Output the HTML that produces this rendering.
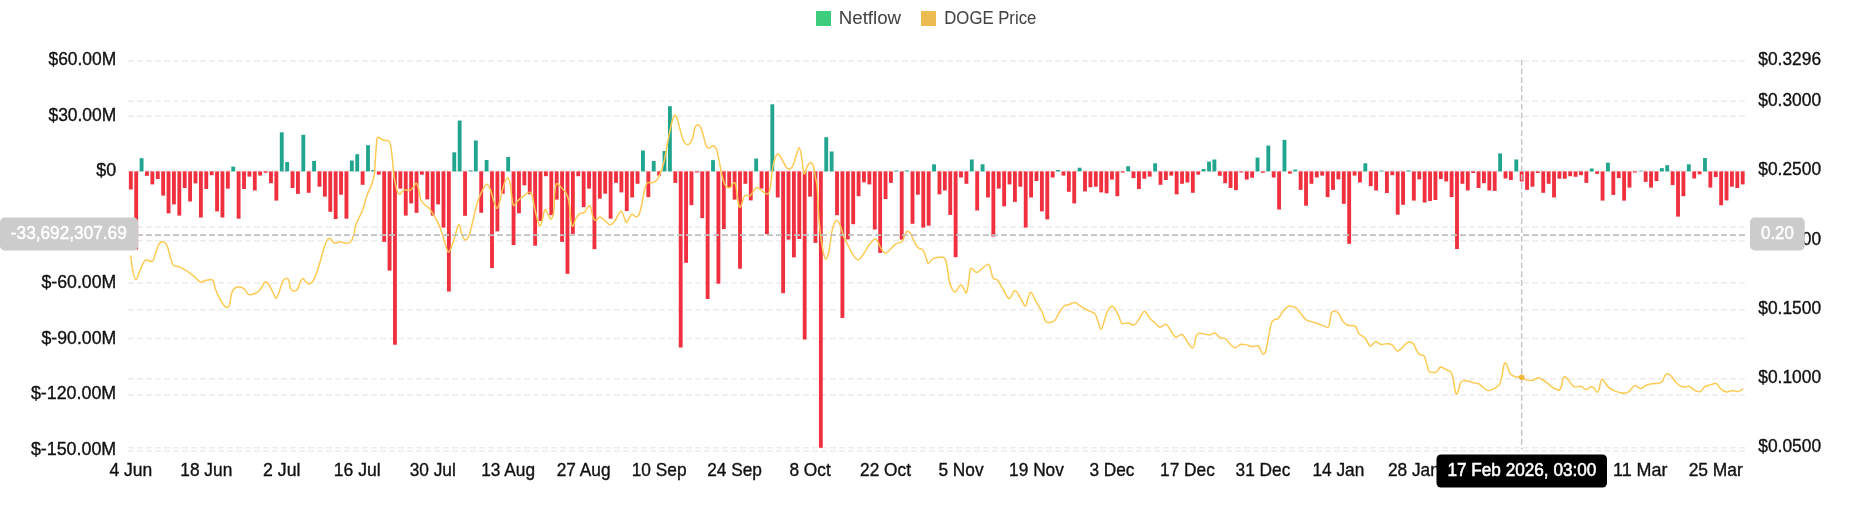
<!DOCTYPE html>
<html><head><meta charset="utf-8"><title>Netflow</title>
<style>html,body{margin:0;padding:0;background:#fff;overflow:hidden}body{width:1852px;height:525px;font-family:"Liberation Sans",sans-serif}</style></head>
<body>
<svg width="1852" height="525" viewBox="0 0 1852 525" style="display:block;will-change:transform">
<rect x="0" y="0" width="1852" height="525" fill="#fff"/>
<g shape-rendering="auto">
<line x1="128.0" y1="61.00" x2="1745.0" y2="61.00" stroke="#ececec" stroke-width="1.5" stroke-dasharray="6 3"/>
<line x1="128.0" y1="116.20" x2="1745.0" y2="116.20" stroke="#ececec" stroke-width="1.5" stroke-dasharray="6 3"/>
<line x1="128.0" y1="171.40" x2="1745.0" y2="171.40" stroke="#ececec" stroke-width="1.5" stroke-dasharray="6 3"/>
<line x1="128.0" y1="227.00" x2="1745.0" y2="227.00" stroke="#ececec" stroke-width="1.5" stroke-dasharray="6 3"/>
<line x1="128.0" y1="282.80" x2="1745.0" y2="282.80" stroke="#ececec" stroke-width="1.5" stroke-dasharray="6 3"/>
<line x1="128.0" y1="338.50" x2="1745.0" y2="338.50" stroke="#ececec" stroke-width="1.5" stroke-dasharray="6 3"/>
<line x1="128.0" y1="395.10" x2="1745.0" y2="395.10" stroke="#ececec" stroke-width="1.5" stroke-dasharray="6 3"/>
<line x1="128.0" y1="451.00" x2="1745.0" y2="451.00" stroke="#ececec" stroke-width="1.5" stroke-dasharray="6 3"/>
<line x1="128.0" y1="101.30" x2="1745.0" y2="101.30" stroke="#ececec" stroke-width="1.5" stroke-dasharray="6 3"/>
<line x1="128.0" y1="170.80" x2="1745.0" y2="170.80" stroke="#ececec" stroke-width="1.5" stroke-dasharray="6 3"/>
<line x1="128.0" y1="240.80" x2="1745.0" y2="240.80" stroke="#ececec" stroke-width="1.5" stroke-dasharray="6 3"/>
<line x1="128.0" y1="309.80" x2="1745.0" y2="309.80" stroke="#ececec" stroke-width="1.5" stroke-dasharray="6 3"/>
<line x1="128.0" y1="378.80" x2="1745.0" y2="378.80" stroke="#ececec" stroke-width="1.5" stroke-dasharray="6 3"/>
<line x1="128.0" y1="447.80" x2="1745.0" y2="447.80" stroke="#ececec" stroke-width="1.5" stroke-dasharray="6 3"/>
</g>
<g font-family="'Liberation Sans', sans-serif">
<text x="116.20" y="65.10" text-anchor="end" fill="#111111" stroke="#111111" stroke-width="0.35" font-size="17.9" font-weight="normal" textLength="67.70" lengthAdjust="spacingAndGlyphs">$60.00M</text>
<text x="116.20" y="120.70" text-anchor="end" fill="#111111" stroke="#111111" stroke-width="0.35" font-size="17.9" font-weight="normal" textLength="67.70" lengthAdjust="spacingAndGlyphs">$30.00M</text>
<text x="116.20" y="176.30" text-anchor="end" fill="#111111" stroke="#111111" stroke-width="0.35" font-size="17.9" font-weight="normal" textLength="19.90" lengthAdjust="spacingAndGlyphs">$0</text>
<text x="116.20" y="287.50" text-anchor="end" fill="#111111" stroke="#111111" stroke-width="0.35" font-size="17.9" font-weight="normal" textLength="74.70" lengthAdjust="spacingAndGlyphs">$-60.00M</text>
<text x="116.20" y="343.70" text-anchor="end" fill="#111111" stroke="#111111" stroke-width="0.35" font-size="17.9" font-weight="normal" textLength="74.70" lengthAdjust="spacingAndGlyphs">$-90.00M</text>
<text x="116.20" y="399.30" text-anchor="end" fill="#111111" stroke="#111111" stroke-width="0.35" font-size="17.9" font-weight="normal" textLength="85.30" lengthAdjust="spacingAndGlyphs">$-120.00M</text>
<text x="116.20" y="455.40" text-anchor="end" fill="#111111" stroke="#111111" stroke-width="0.35" font-size="17.9" font-weight="normal" textLength="85.30" lengthAdjust="spacingAndGlyphs">$-150.00M</text>
<text x="1758.30" y="64.80" text-anchor="start" fill="#111111" stroke="#111111" stroke-width="0.35" font-size="17.9" font-weight="normal" textLength="62.80" lengthAdjust="spacingAndGlyphs">$0.3296</text>
<text x="1758.30" y="105.70" text-anchor="start" fill="#111111" stroke="#111111" stroke-width="0.35" font-size="17.9" font-weight="normal" textLength="62.80" lengthAdjust="spacingAndGlyphs">$0.3000</text>
<text x="1758.30" y="175.00" text-anchor="start" fill="#111111" stroke="#111111" stroke-width="0.35" font-size="17.9" font-weight="normal" textLength="62.80" lengthAdjust="spacingAndGlyphs">$0.2500</text>
<text x="1758.30" y="245.30" text-anchor="start" fill="#111111" stroke="#111111" stroke-width="0.35" font-size="17.9" font-weight="normal" textLength="62.80" lengthAdjust="spacingAndGlyphs">$0.2000</text>
<text x="1758.30" y="313.80" text-anchor="start" fill="#111111" stroke="#111111" stroke-width="0.35" font-size="17.9" font-weight="normal" textLength="62.80" lengthAdjust="spacingAndGlyphs">$0.1500</text>
<text x="1758.30" y="382.90" text-anchor="start" fill="#111111" stroke="#111111" stroke-width="0.35" font-size="17.9" font-weight="normal" textLength="62.80" lengthAdjust="spacingAndGlyphs">$0.1000</text>
<text x="1758.30" y="452.30" text-anchor="start" fill="#111111" stroke="#111111" stroke-width="0.35" font-size="17.9" font-weight="normal" textLength="62.80" lengthAdjust="spacingAndGlyphs">$0.0500</text>
<text x="130.80" y="476.00" text-anchor="middle" fill="#111111" stroke="#111111" stroke-width="0.35" font-size="17.9" font-weight="normal" textLength="42.80" lengthAdjust="spacingAndGlyphs">4 Jun</text>
<text x="206.27" y="476.00" text-anchor="middle" fill="#111111" stroke="#111111" stroke-width="0.35" font-size="17.9" font-weight="normal" textLength="52.00" lengthAdjust="spacingAndGlyphs">18 Jun</text>
<text x="281.75" y="476.00" text-anchor="middle" fill="#111111" stroke="#111111" stroke-width="0.35" font-size="17.9" font-weight="normal" textLength="37.30" lengthAdjust="spacingAndGlyphs">2 Jul</text>
<text x="357.22" y="476.00" text-anchor="middle" fill="#111111" stroke="#111111" stroke-width="0.35" font-size="17.9" font-weight="normal" textLength="47.00" lengthAdjust="spacingAndGlyphs">16 Jul</text>
<text x="432.70" y="476.00" text-anchor="middle" fill="#111111" stroke="#111111" stroke-width="0.35" font-size="17.9" font-weight="normal" textLength="46.11" lengthAdjust="spacingAndGlyphs">30 Jul</text>
<text x="508.17" y="476.00" text-anchor="middle" fill="#111111" stroke="#111111" stroke-width="0.35" font-size="17.9" font-weight="normal" textLength="53.81" lengthAdjust="spacingAndGlyphs">13 Aug</text>
<text x="583.64" y="476.00" text-anchor="middle" fill="#111111" stroke="#111111" stroke-width="0.35" font-size="17.9" font-weight="normal" textLength="53.81" lengthAdjust="spacingAndGlyphs">27 Aug</text>
<text x="659.12" y="476.00" text-anchor="middle" fill="#111111" stroke="#111111" stroke-width="0.35" font-size="17.9" font-weight="normal" textLength="54.77" lengthAdjust="spacingAndGlyphs">10 Sep</text>
<text x="734.59" y="476.00" text-anchor="middle" fill="#111111" stroke="#111111" stroke-width="0.35" font-size="17.9" font-weight="normal" textLength="54.77" lengthAdjust="spacingAndGlyphs">24 Sep</text>
<text x="810.07" y="476.00" text-anchor="middle" fill="#111111" stroke="#111111" stroke-width="0.35" font-size="17.9" font-weight="normal" textLength="41.29" lengthAdjust="spacingAndGlyphs">8 Oct</text>
<text x="885.54" y="476.00" text-anchor="middle" fill="#111111" stroke="#111111" stroke-width="0.35" font-size="17.9" font-weight="normal" textLength="50.90" lengthAdjust="spacingAndGlyphs">22 Oct</text>
<text x="961.01" y="476.00" text-anchor="middle" fill="#111111" stroke="#111111" stroke-width="0.35" font-size="17.9" font-weight="normal" textLength="45.14" lengthAdjust="spacingAndGlyphs">5 Nov</text>
<text x="1036.49" y="476.00" text-anchor="middle" fill="#111111" stroke="#111111" stroke-width="0.35" font-size="17.9" font-weight="normal" textLength="54.75" lengthAdjust="spacingAndGlyphs">19 Nov</text>
<text x="1111.96" y="476.00" text-anchor="middle" fill="#111111" stroke="#111111" stroke-width="0.35" font-size="17.9" font-weight="normal" textLength="45.14" lengthAdjust="spacingAndGlyphs">3 Dec</text>
<text x="1187.44" y="476.00" text-anchor="middle" fill="#111111" stroke="#111111" stroke-width="0.35" font-size="17.9" font-weight="normal" textLength="54.75" lengthAdjust="spacingAndGlyphs">17 Dec</text>
<text x="1262.91" y="476.00" text-anchor="middle" fill="#111111" stroke="#111111" stroke-width="0.35" font-size="17.9" font-weight="normal" textLength="54.75" lengthAdjust="spacingAndGlyphs">31 Dec</text>
<text x="1338.38" y="476.00" text-anchor="middle" fill="#111111" stroke="#111111" stroke-width="0.35" font-size="17.9" font-weight="normal" textLength="51.88" lengthAdjust="spacingAndGlyphs">14 Jan</text>
<text x="1413.86" y="476.00" text-anchor="middle" fill="#111111" stroke="#111111" stroke-width="0.35" font-size="17.9" font-weight="normal" textLength="51.88" lengthAdjust="spacingAndGlyphs">28 Jan</text>
<text x="1489.33" y="476.00" text-anchor="middle" fill="#111111" stroke="#111111" stroke-width="0.35" font-size="17.9" font-weight="normal" textLength="52.52" lengthAdjust="spacingAndGlyphs">11 Feb</text>
<text x="1564.81" y="476.00" text-anchor="middle" fill="#111111" stroke="#111111" stroke-width="0.35" font-size="17.9" font-weight="normal" textLength="53.80" lengthAdjust="spacingAndGlyphs">25 Feb</text>
<text x="1640.28" y="476.00" text-anchor="middle" fill="#111111" stroke="#111111" stroke-width="0.35" font-size="17.9" font-weight="normal" textLength="54.50" lengthAdjust="spacingAndGlyphs">11 Mar</text>
<text x="1715.75" y="476.00" text-anchor="middle" fill="#111111" stroke="#111111" stroke-width="0.35" font-size="17.9" font-weight="normal" textLength="54.20" lengthAdjust="spacingAndGlyphs">25 Mar</text>
</g>
<g>
<rect x="128.88" y="171.40" width="3.85" height="18.10" fill="#F0303F"/>
<rect x="134.27" y="171.40" width="3.85" height="78.10" fill="#F0303F"/>
<rect x="139.66" y="158.20" width="3.85" height="13.20" fill="#22A58F"/>
<rect x="145.05" y="171.40" width="3.85" height="4.40" fill="#F0303F"/>
<rect x="150.44" y="171.40" width="3.85" height="13.00" fill="#F0303F"/>
<rect x="155.83" y="171.40" width="3.85" height="7.60" fill="#F0303F"/>
<rect x="161.22" y="171.40" width="3.85" height="24.20" fill="#F0303F"/>
<rect x="166.61" y="171.40" width="3.85" height="41.90" fill="#F0303F"/>
<rect x="172.00" y="171.40" width="3.85" height="33.00" fill="#F0303F"/>
<rect x="177.39" y="171.40" width="3.85" height="44.20" fill="#F0303F"/>
<rect x="182.78" y="171.40" width="3.85" height="16.60" fill="#F0303F"/>
<rect x="188.18" y="171.40" width="3.85" height="30.10" fill="#F0303F"/>
<rect x="193.57" y="171.40" width="3.85" height="12.00" fill="#F0303F"/>
<rect x="198.96" y="171.40" width="3.85" height="46.10" fill="#F0303F"/>
<rect x="204.35" y="171.40" width="3.85" height="17.60" fill="#F0303F"/>
<rect x="209.74" y="171.40" width="3.85" height="3.80" fill="#F0303F"/>
<rect x="215.13" y="171.40" width="3.85" height="40.00" fill="#F0303F"/>
<rect x="220.52" y="171.40" width="3.85" height="46.10" fill="#F0303F"/>
<rect x="225.91" y="171.40" width="3.85" height="17.20" fill="#F0303F"/>
<rect x="231.30" y="166.60" width="3.85" height="4.80" fill="#22A58F"/>
<rect x="236.69" y="171.40" width="3.85" height="47.30" fill="#F0303F"/>
<rect x="242.09" y="171.40" width="3.85" height="17.60" fill="#F0303F"/>
<rect x="247.48" y="171.40" width="3.85" height="5.20" fill="#F0303F"/>
<rect x="252.87" y="171.40" width="3.85" height="19.10" fill="#F0303F"/>
<rect x="258.26" y="171.40" width="3.85" height="4.20" fill="#F0303F"/>
<rect x="263.65" y="171.40" width="3.85" height="1.40" fill="#F0303F"/>
<rect x="269.04" y="171.40" width="3.85" height="11.80" fill="#F0303F"/>
<rect x="274.43" y="171.40" width="3.85" height="29.20" fill="#F0303F"/>
<rect x="279.82" y="132.30" width="3.85" height="39.10" fill="#22A58F"/>
<rect x="285.21" y="162.00" width="3.85" height="9.40" fill="#22A58F"/>
<rect x="290.60" y="171.40" width="3.85" height="16.60" fill="#F0303F"/>
<rect x="296.00" y="171.40" width="3.85" height="22.50" fill="#F0303F"/>
<rect x="301.39" y="134.80" width="3.85" height="36.60" fill="#22A58F"/>
<rect x="306.78" y="171.40" width="3.85" height="21.40" fill="#F0303F"/>
<rect x="312.17" y="160.90" width="3.85" height="10.50" fill="#22A58F"/>
<rect x="317.56" y="171.40" width="3.85" height="15.30" fill="#F0303F"/>
<rect x="322.95" y="171.40" width="3.85" height="25.20" fill="#F0303F"/>
<rect x="328.34" y="171.40" width="3.85" height="40.40" fill="#F0303F"/>
<rect x="333.73" y="171.40" width="3.85" height="47.60" fill="#F0303F"/>
<rect x="339.12" y="171.40" width="3.85" height="23.30" fill="#F0303F"/>
<rect x="344.51" y="171.40" width="3.85" height="47.30" fill="#F0303F"/>
<rect x="349.91" y="160.50" width="3.85" height="10.90" fill="#22A58F"/>
<rect x="355.30" y="154.20" width="3.85" height="17.20" fill="#22A58F"/>
<rect x="360.69" y="171.40" width="3.85" height="13.40" fill="#F0303F"/>
<rect x="366.08" y="145.20" width="3.85" height="26.20" fill="#22A58F"/>
<rect x="371.47" y="170.00" width="3.85" height="1.40" fill="#22A58F"/>
<rect x="376.86" y="171.40" width="3.85" height="3.30" fill="#F0303F"/>
<rect x="382.25" y="171.40" width="3.85" height="70.50" fill="#F0303F"/>
<rect x="387.64" y="171.40" width="3.85" height="99.20" fill="#F0303F"/>
<rect x="393.03" y="171.40" width="3.85" height="173.30" fill="#F0303F"/>
<rect x="398.43" y="171.40" width="3.85" height="17.20" fill="#F0303F"/>
<rect x="403.82" y="171.40" width="3.85" height="44.20" fill="#F0303F"/>
<rect x="409.21" y="171.40" width="3.85" height="32.00" fill="#F0303F"/>
<rect x="414.60" y="171.40" width="3.85" height="41.40" fill="#F0303F"/>
<rect x="419.99" y="171.40" width="3.85" height="3.30" fill="#F0303F"/>
<rect x="425.38" y="171.40" width="3.85" height="28.00" fill="#F0303F"/>
<rect x="430.77" y="171.40" width="3.85" height="44.20" fill="#F0303F"/>
<rect x="436.16" y="171.40" width="3.85" height="33.00" fill="#F0303F"/>
<rect x="441.55" y="171.40" width="3.85" height="56.20" fill="#F0303F"/>
<rect x="446.94" y="171.40" width="3.85" height="120.10" fill="#F0303F"/>
<rect x="452.33" y="152.30" width="3.85" height="19.10" fill="#22A58F"/>
<rect x="457.73" y="120.50" width="3.85" height="50.90" fill="#22A58F"/>
<rect x="463.12" y="171.40" width="3.85" height="44.40" fill="#F0303F"/>
<rect x="468.51" y="170.40" width="3.85" height="1.00" fill="#22A58F"/>
<rect x="473.90" y="140.50" width="3.85" height="30.90" fill="#22A58F"/>
<rect x="479.29" y="171.40" width="3.85" height="41.40" fill="#F0303F"/>
<rect x="484.68" y="160.00" width="3.85" height="11.40" fill="#22A58F"/>
<rect x="490.07" y="171.40" width="3.85" height="96.70" fill="#F0303F"/>
<rect x="495.46" y="171.40" width="3.85" height="60.00" fill="#F0303F"/>
<rect x="500.85" y="171.40" width="3.85" height="22.30" fill="#F0303F"/>
<rect x="506.25" y="157.00" width="3.85" height="14.40" fill="#22A58F"/>
<rect x="511.64" y="171.40" width="3.85" height="73.70" fill="#F0303F"/>
<rect x="517.03" y="171.40" width="3.85" height="41.90" fill="#F0303F"/>
<rect x="522.42" y="171.40" width="3.85" height="13.90" fill="#F0303F"/>
<rect x="527.81" y="171.40" width="3.85" height="22.90" fill="#F0303F"/>
<rect x="533.20" y="171.40" width="3.85" height="74.30" fill="#F0303F"/>
<rect x="538.59" y="171.40" width="3.85" height="49.60" fill="#F0303F"/>
<rect x="543.98" y="171.40" width="3.85" height="4.80" fill="#F0303F"/>
<rect x="549.37" y="171.40" width="3.85" height="43.80" fill="#F0303F"/>
<rect x="554.76" y="171.40" width="3.85" height="28.20" fill="#F0303F"/>
<rect x="560.15" y="171.40" width="3.85" height="70.50" fill="#F0303F"/>
<rect x="565.55" y="171.40" width="3.85" height="102.40" fill="#F0303F"/>
<rect x="570.94" y="171.40" width="3.85" height="62.50" fill="#F0303F"/>
<rect x="576.33" y="171.40" width="3.85" height="4.80" fill="#F0303F"/>
<rect x="581.72" y="171.40" width="3.85" height="35.80" fill="#F0303F"/>
<rect x="587.11" y="171.40" width="3.85" height="17.20" fill="#F0303F"/>
<rect x="592.50" y="171.40" width="3.85" height="77.70" fill="#F0303F"/>
<rect x="597.89" y="171.40" width="3.85" height="27.30" fill="#F0303F"/>
<rect x="603.28" y="171.40" width="3.85" height="22.30" fill="#F0303F"/>
<rect x="608.67" y="171.40" width="3.85" height="47.30" fill="#F0303F"/>
<rect x="614.07" y="171.40" width="3.85" height="11.50" fill="#F0303F"/>
<rect x="619.46" y="171.40" width="3.85" height="21.00" fill="#F0303F"/>
<rect x="624.85" y="171.40" width="3.85" height="39.60" fill="#F0303F"/>
<rect x="630.24" y="171.40" width="3.85" height="26.10" fill="#F0303F"/>
<rect x="635.63" y="171.40" width="3.85" height="12.40" fill="#F0303F"/>
<rect x="641.02" y="150.60" width="3.85" height="20.80" fill="#22A58F"/>
<rect x="646.41" y="171.40" width="3.85" height="25.70" fill="#F0303F"/>
<rect x="651.80" y="161.00" width="3.85" height="10.40" fill="#22A58F"/>
<rect x="657.19" y="171.40" width="3.85" height="4.20" fill="#F0303F"/>
<rect x="662.58" y="151.00" width="3.85" height="20.40" fill="#22A58F"/>
<rect x="667.98" y="106.20" width="3.85" height="65.20" fill="#22A58F"/>
<rect x="673.37" y="171.40" width="3.85" height="11.50" fill="#F0303F"/>
<rect x="678.76" y="171.40" width="3.85" height="176.10" fill="#F0303F"/>
<rect x="684.15" y="171.40" width="3.85" height="91.40" fill="#F0303F"/>
<rect x="689.54" y="171.40" width="3.85" height="33.70" fill="#F0303F"/>
<rect x="694.93" y="171.40" width="3.85" height="1.10" fill="#F0303F"/>
<rect x="700.32" y="171.40" width="3.85" height="46.70" fill="#F0303F"/>
<rect x="705.71" y="171.40" width="3.85" height="127.60" fill="#F0303F"/>
<rect x="711.10" y="160.10" width="3.85" height="11.30" fill="#22A58F"/>
<rect x="716.49" y="171.40" width="3.85" height="112.30" fill="#F0303F"/>
<rect x="721.88" y="171.40" width="3.85" height="57.70" fill="#F0303F"/>
<rect x="727.28" y="171.40" width="3.85" height="16.20" fill="#F0303F"/>
<rect x="732.67" y="171.40" width="3.85" height="28.20" fill="#F0303F"/>
<rect x="738.06" y="171.40" width="3.85" height="97.30" fill="#F0303F"/>
<rect x="743.45" y="171.40" width="3.85" height="12.40" fill="#F0303F"/>
<rect x="748.84" y="171.40" width="3.85" height="29.00" fill="#F0303F"/>
<rect x="754.23" y="158.60" width="3.85" height="12.80" fill="#22A58F"/>
<rect x="759.62" y="171.40" width="3.85" height="17.20" fill="#F0303F"/>
<rect x="765.01" y="171.40" width="3.85" height="62.90" fill="#F0303F"/>
<rect x="770.40" y="104.30" width="3.85" height="67.10" fill="#22A58F"/>
<rect x="775.80" y="171.40" width="3.85" height="26.10" fill="#F0303F"/>
<rect x="781.19" y="171.40" width="3.85" height="121.80" fill="#F0303F"/>
<rect x="786.58" y="171.40" width="3.85" height="68.20" fill="#F0303F"/>
<rect x="791.97" y="171.40" width="3.85" height="86.00" fill="#F0303F"/>
<rect x="797.36" y="171.40" width="3.85" height="67.60" fill="#F0303F"/>
<rect x="802.75" y="171.40" width="3.85" height="168.10" fill="#F0303F"/>
<rect x="808.14" y="171.40" width="3.85" height="25.20" fill="#F0303F"/>
<rect x="813.53" y="171.40" width="3.85" height="71.50" fill="#F0303F"/>
<rect x="818.92" y="171.40" width="3.85" height="276.40" fill="#F0303F"/>
<rect x="824.31" y="137.20" width="3.85" height="34.20" fill="#22A58F"/>
<rect x="829.71" y="151.50" width="3.85" height="19.90" fill="#22A58F"/>
<rect x="835.10" y="171.40" width="3.85" height="43.80" fill="#F0303F"/>
<rect x="840.49" y="171.40" width="3.85" height="146.60" fill="#F0303F"/>
<rect x="845.88" y="171.40" width="3.85" height="68.00" fill="#F0303F"/>
<rect x="851.27" y="171.40" width="3.85" height="52.80" fill="#F0303F"/>
<rect x="856.66" y="171.40" width="3.85" height="24.80" fill="#F0303F"/>
<rect x="862.05" y="171.40" width="3.85" height="10.90" fill="#F0303F"/>
<rect x="867.44" y="171.40" width="3.85" height="13.00" fill="#F0303F"/>
<rect x="872.83" y="171.40" width="3.85" height="58.10" fill="#F0303F"/>
<rect x="878.22" y="171.40" width="3.85" height="81.50" fill="#F0303F"/>
<rect x="883.62" y="171.40" width="3.85" height="27.60" fill="#F0303F"/>
<rect x="889.01" y="171.40" width="3.85" height="11.50" fill="#F0303F"/>
<rect x="894.40" y="170.70" width="3.85" height="0.70" fill="#22A58F"/>
<rect x="899.79" y="171.40" width="3.85" height="68.20" fill="#F0303F"/>
<rect x="905.18" y="170.50" width="3.85" height="0.90" fill="#22A58F"/>
<rect x="910.57" y="171.40" width="3.85" height="52.40" fill="#F0303F"/>
<rect x="915.96" y="171.40" width="3.85" height="23.30" fill="#F0303F"/>
<rect x="921.35" y="171.40" width="3.85" height="56.20" fill="#F0303F"/>
<rect x="926.74" y="171.40" width="3.85" height="54.30" fill="#F0303F"/>
<rect x="932.13" y="164.30" width="3.85" height="7.10" fill="#22A58F"/>
<rect x="937.53" y="171.40" width="3.85" height="22.90" fill="#F0303F"/>
<rect x="942.92" y="171.40" width="3.85" height="19.10" fill="#F0303F"/>
<rect x="948.31" y="171.40" width="3.85" height="43.50" fill="#F0303F"/>
<rect x="953.70" y="171.40" width="3.85" height="85.80" fill="#F0303F"/>
<rect x="959.09" y="171.40" width="3.85" height="6.10" fill="#F0303F"/>
<rect x="964.48" y="171.40" width="3.85" height="12.40" fill="#F0303F"/>
<rect x="969.87" y="159.50" width="3.85" height="11.90" fill="#22A58F"/>
<rect x="975.26" y="171.40" width="3.85" height="39.10" fill="#F0303F"/>
<rect x="980.65" y="164.30" width="3.85" height="7.10" fill="#22A58F"/>
<rect x="986.04" y="171.40" width="3.85" height="26.10" fill="#F0303F"/>
<rect x="991.43" y="171.40" width="3.85" height="65.20" fill="#F0303F"/>
<rect x="996.83" y="171.40" width="3.85" height="17.20" fill="#F0303F"/>
<rect x="1002.22" y="171.40" width="3.85" height="34.90" fill="#F0303F"/>
<rect x="1007.61" y="171.40" width="3.85" height="13.00" fill="#F0303F"/>
<rect x="1013.00" y="171.40" width="3.85" height="30.50" fill="#F0303F"/>
<rect x="1018.39" y="171.40" width="3.85" height="15.30" fill="#F0303F"/>
<rect x="1023.78" y="171.40" width="3.85" height="56.20" fill="#F0303F"/>
<rect x="1029.17" y="171.40" width="3.85" height="26.10" fill="#F0303F"/>
<rect x="1034.56" y="171.40" width="3.85" height="9.60" fill="#F0303F"/>
<rect x="1039.95" y="171.40" width="3.85" height="40.00" fill="#F0303F"/>
<rect x="1045.35" y="171.40" width="3.85" height="48.00" fill="#F0303F"/>
<rect x="1050.74" y="171.40" width="3.85" height="6.10" fill="#F0303F"/>
<rect x="1056.13" y="170.00" width="3.85" height="1.40" fill="#22A58F"/>
<rect x="1061.52" y="171.40" width="3.85" height="4.20" fill="#F0303F"/>
<rect x="1066.91" y="171.40" width="3.85" height="20.40" fill="#F0303F"/>
<rect x="1072.30" y="171.40" width="3.85" height="32.00" fill="#F0303F"/>
<rect x="1077.69" y="167.70" width="3.85" height="3.70" fill="#22A58F"/>
<rect x="1083.08" y="171.40" width="3.85" height="20.00" fill="#F0303F"/>
<rect x="1088.47" y="171.40" width="3.85" height="15.80" fill="#F0303F"/>
<rect x="1093.86" y="171.40" width="3.85" height="15.30" fill="#F0303F"/>
<rect x="1099.26" y="171.40" width="3.85" height="21.00" fill="#F0303F"/>
<rect x="1104.65" y="171.40" width="3.85" height="21.90" fill="#F0303F"/>
<rect x="1110.04" y="171.40" width="3.85" height="8.20" fill="#F0303F"/>
<rect x="1115.43" y="171.40" width="3.85" height="24.80" fill="#F0303F"/>
<rect x="1120.82" y="171.40" width="3.85" height="1.20" fill="#F0303F"/>
<rect x="1126.21" y="166.20" width="3.85" height="5.20" fill="#22A58F"/>
<rect x="1131.60" y="171.40" width="3.85" height="6.70" fill="#F0303F"/>
<rect x="1136.99" y="171.40" width="3.85" height="17.60" fill="#F0303F"/>
<rect x="1142.38" y="171.40" width="3.85" height="7.30" fill="#F0303F"/>
<rect x="1147.77" y="171.40" width="3.85" height="5.20" fill="#F0303F"/>
<rect x="1153.16" y="163.30" width="3.85" height="8.10" fill="#22A58F"/>
<rect x="1158.56" y="171.40" width="3.85" height="13.40" fill="#F0303F"/>
<rect x="1163.95" y="171.40" width="3.85" height="8.60" fill="#F0303F"/>
<rect x="1169.34" y="171.40" width="3.85" height="4.20" fill="#F0303F"/>
<rect x="1174.73" y="171.40" width="3.85" height="22.90" fill="#F0303F"/>
<rect x="1180.12" y="171.40" width="3.85" height="12.40" fill="#F0303F"/>
<rect x="1185.51" y="171.40" width="3.85" height="11.10" fill="#F0303F"/>
<rect x="1190.90" y="171.40" width="3.85" height="21.40" fill="#F0303F"/>
<rect x="1196.29" y="171.40" width="3.85" height="3.30" fill="#F0303F"/>
<rect x="1201.68" y="169.00" width="3.85" height="2.40" fill="#22A58F"/>
<rect x="1207.08" y="161.60" width="3.85" height="9.80" fill="#22A58F"/>
<rect x="1212.47" y="159.50" width="3.85" height="11.90" fill="#22A58F"/>
<rect x="1217.86" y="171.40" width="3.85" height="4.40" fill="#F0303F"/>
<rect x="1223.25" y="171.40" width="3.85" height="11.80" fill="#F0303F"/>
<rect x="1228.64" y="171.40" width="3.85" height="16.60" fill="#F0303F"/>
<rect x="1234.03" y="171.40" width="3.85" height="18.70" fill="#F0303F"/>
<rect x="1239.42" y="171.40" width="3.85" height="1.10" fill="#F0303F"/>
<rect x="1244.81" y="171.40" width="3.85" height="8.20" fill="#F0303F"/>
<rect x="1250.20" y="171.40" width="3.85" height="6.30" fill="#F0303F"/>
<rect x="1255.59" y="157.60" width="3.85" height="13.80" fill="#22A58F"/>
<rect x="1260.98" y="171.40" width="3.85" height="1.40" fill="#F0303F"/>
<rect x="1266.38" y="145.60" width="3.85" height="25.80" fill="#22A58F"/>
<rect x="1271.77" y="171.40" width="3.85" height="6.10" fill="#F0303F"/>
<rect x="1277.16" y="171.40" width="3.85" height="38.10" fill="#F0303F"/>
<rect x="1282.55" y="139.90" width="3.85" height="31.50" fill="#22A58F"/>
<rect x="1287.94" y="171.40" width="3.85" height="2.30" fill="#F0303F"/>
<rect x="1293.33" y="169.60" width="3.85" height="1.80" fill="#22A58F"/>
<rect x="1298.72" y="171.40" width="3.85" height="18.50" fill="#F0303F"/>
<rect x="1304.11" y="171.40" width="3.85" height="34.30" fill="#F0303F"/>
<rect x="1309.50" y="171.40" width="3.85" height="12.40" fill="#F0303F"/>
<rect x="1314.89" y="171.40" width="3.85" height="6.10" fill="#F0303F"/>
<rect x="1320.29" y="171.40" width="3.85" height="4.20" fill="#F0303F"/>
<rect x="1325.68" y="171.40" width="3.85" height="25.70" fill="#F0303F"/>
<rect x="1331.07" y="171.40" width="3.85" height="18.50" fill="#F0303F"/>
<rect x="1336.46" y="171.40" width="3.85" height="8.00" fill="#F0303F"/>
<rect x="1341.85" y="171.40" width="3.85" height="32.40" fill="#F0303F"/>
<rect x="1347.24" y="171.40" width="3.85" height="72.40" fill="#F0303F"/>
<rect x="1352.63" y="171.40" width="3.85" height="4.20" fill="#F0303F"/>
<rect x="1358.02" y="171.40" width="3.85" height="11.10" fill="#F0303F"/>
<rect x="1363.41" y="163.30" width="3.85" height="8.10" fill="#22A58F"/>
<rect x="1368.81" y="171.40" width="3.85" height="14.70" fill="#F0303F"/>
<rect x="1374.20" y="171.40" width="3.85" height="19.10" fill="#F0303F"/>
<rect x="1379.59" y="170.70" width="3.85" height="0.70" fill="#22A58F"/>
<rect x="1384.98" y="171.40" width="3.85" height="21.60" fill="#F0303F"/>
<rect x="1390.37" y="171.40" width="3.85" height="3.80" fill="#F0303F"/>
<rect x="1395.76" y="171.40" width="3.85" height="43.30" fill="#F0303F"/>
<rect x="1401.15" y="171.40" width="3.85" height="33.40" fill="#F0303F"/>
<rect x="1406.54" y="170.50" width="3.85" height="0.90" fill="#22A58F"/>
<rect x="1411.93" y="171.40" width="3.85" height="29.20" fill="#F0303F"/>
<rect x="1417.32" y="171.40" width="3.85" height="8.00" fill="#F0303F"/>
<rect x="1422.71" y="171.40" width="3.85" height="31.10" fill="#F0303F"/>
<rect x="1428.11" y="171.40" width="3.85" height="29.60" fill="#F0303F"/>
<rect x="1433.50" y="171.40" width="3.85" height="28.60" fill="#F0303F"/>
<rect x="1438.89" y="171.40" width="3.85" height="7.60" fill="#F0303F"/>
<rect x="1444.28" y="171.40" width="3.85" height="10.10" fill="#F0303F"/>
<rect x="1449.67" y="171.40" width="3.85" height="25.70" fill="#F0303F"/>
<rect x="1455.06" y="171.40" width="3.85" height="77.60" fill="#F0303F"/>
<rect x="1460.45" y="171.40" width="3.85" height="12.40" fill="#F0303F"/>
<rect x="1465.84" y="171.40" width="3.85" height="19.10" fill="#F0303F"/>
<rect x="1471.23" y="171.40" width="3.85" height="1.60" fill="#F0303F"/>
<rect x="1476.62" y="171.40" width="3.85" height="16.60" fill="#F0303F"/>
<rect x="1482.02" y="171.40" width="3.85" height="11.80" fill="#F0303F"/>
<rect x="1487.41" y="171.40" width="3.85" height="19.10" fill="#F0303F"/>
<rect x="1492.80" y="171.40" width="3.85" height="19.50" fill="#F0303F"/>
<rect x="1498.19" y="153.40" width="3.85" height="18.00" fill="#22A58F"/>
<rect x="1503.58" y="171.40" width="3.85" height="7.10" fill="#F0303F"/>
<rect x="1508.97" y="171.40" width="3.85" height="8.60" fill="#F0303F"/>
<rect x="1514.36" y="159.50" width="3.85" height="11.90" fill="#22A58F"/>
<rect x="1519.75" y="171.40" width="3.85" height="10.10" fill="#F0303F"/>
<rect x="1525.14" y="171.40" width="3.85" height="18.50" fill="#F0303F"/>
<rect x="1530.54" y="171.40" width="3.85" height="15.30" fill="#F0303F"/>
<rect x="1535.93" y="171.40" width="3.85" height="1.60" fill="#F0303F"/>
<rect x="1541.32" y="171.40" width="3.85" height="21.40" fill="#F0303F"/>
<rect x="1546.71" y="171.40" width="3.85" height="12.40" fill="#F0303F"/>
<rect x="1552.10" y="171.40" width="3.85" height="26.10" fill="#F0303F"/>
<rect x="1557.49" y="171.40" width="3.85" height="7.30" fill="#F0303F"/>
<rect x="1562.88" y="171.40" width="3.85" height="7.30" fill="#F0303F"/>
<rect x="1568.27" y="171.40" width="3.85" height="4.80" fill="#F0303F"/>
<rect x="1573.66" y="171.40" width="3.85" height="5.40" fill="#F0303F"/>
<rect x="1579.05" y="171.40" width="3.85" height="3.80" fill="#F0303F"/>
<rect x="1584.44" y="171.40" width="3.85" height="11.50" fill="#F0303F"/>
<rect x="1589.84" y="168.50" width="3.85" height="2.90" fill="#22A58F"/>
<rect x="1595.23" y="171.40" width="3.85" height="2.50" fill="#F0303F"/>
<rect x="1600.62" y="171.40" width="3.85" height="29.20" fill="#F0303F"/>
<rect x="1606.01" y="162.70" width="3.85" height="8.70" fill="#22A58F"/>
<rect x="1611.40" y="171.40" width="3.85" height="23.50" fill="#F0303F"/>
<rect x="1616.79" y="171.40" width="3.85" height="6.70" fill="#F0303F"/>
<rect x="1622.18" y="171.40" width="3.85" height="29.20" fill="#F0303F"/>
<rect x="1627.57" y="171.40" width="3.85" height="16.20" fill="#F0303F"/>
<rect x="1632.96" y="171.40" width="3.85" height="1.10" fill="#F0303F"/>
<rect x="1638.36" y="170.80" width="3.85" height="0.60" fill="#22A58F"/>
<rect x="1643.75" y="171.40" width="3.85" height="10.50" fill="#F0303F"/>
<rect x="1649.14" y="171.40" width="3.85" height="16.20" fill="#F0303F"/>
<rect x="1654.53" y="171.40" width="3.85" height="9.60" fill="#F0303F"/>
<rect x="1659.92" y="168.10" width="3.85" height="3.30" fill="#22A58F"/>
<rect x="1665.31" y="165.20" width="3.85" height="6.20" fill="#22A58F"/>
<rect x="1670.70" y="171.40" width="3.85" height="13.70" fill="#F0303F"/>
<rect x="1676.09" y="171.40" width="3.85" height="45.20" fill="#F0303F"/>
<rect x="1681.48" y="171.40" width="3.85" height="24.80" fill="#F0303F"/>
<rect x="1686.87" y="164.30" width="3.85" height="7.10" fill="#22A58F"/>
<rect x="1692.27" y="171.40" width="3.85" height="7.10" fill="#F0303F"/>
<rect x="1697.66" y="171.40" width="3.85" height="2.90" fill="#F0303F"/>
<rect x="1703.05" y="158.00" width="3.85" height="13.40" fill="#22A58F"/>
<rect x="1708.44" y="171.40" width="3.85" height="16.20" fill="#F0303F"/>
<rect x="1713.83" y="171.40" width="3.85" height="5.70" fill="#F0303F"/>
<rect x="1719.22" y="171.40" width="3.85" height="33.90" fill="#F0303F"/>
<rect x="1724.61" y="171.40" width="3.85" height="29.00" fill="#F0303F"/>
<rect x="1730.00" y="171.40" width="3.85" height="15.30" fill="#F0303F"/>
<rect x="1735.39" y="171.40" width="3.85" height="16.60" fill="#F0303F"/>
<rect x="1740.78" y="171.40" width="3.85" height="13.00" fill="#F0303F"/>
</g>
<path d="M130.8 256.0C131.1 258.4 131.8 266.2 132.7 270.2C133.5 274.2 134.8 279.5 135.9 279.8C137.0 280.1 137.9 275.1 139.3 272.1C140.7 269.1 142.8 263.7 144.1 261.7C145.4 259.7 145.6 260.2 147.0 260.1C148.4 260.0 151.3 262.5 152.7 261.3C154.1 260.1 154.4 256.1 155.5 253.1C156.6 250.1 158.0 245.5 159.3 243.6C160.6 241.7 161.8 241.4 163.1 241.7C164.4 242.0 165.7 242.7 167.0 245.5C168.3 248.3 169.7 255.5 170.8 258.8C171.9 262.1 172.2 264.2 173.6 265.5C175.0 266.8 177.1 265.9 179.3 266.8C181.5 267.8 184.4 269.5 187.0 271.2C189.6 272.9 192.4 275.1 194.6 276.9C196.8 278.7 198.4 281.4 200.3 282.0C202.2 282.6 203.9 280.6 206.0 280.3C208.1 280.0 211.1 278.6 212.7 280.1C214.3 281.6 214.4 286.3 215.5 289.3C216.6 292.3 217.9 295.2 219.3 297.9C220.7 300.6 222.7 303.9 224.1 305.5C225.5 307.1 226.9 307.7 227.9 307.4C228.9 307.1 229.2 306.0 229.8 303.6C230.4 301.2 230.9 295.7 231.7 293.1C232.5 290.6 233.3 289.3 234.6 288.3C235.9 287.3 237.7 286.9 239.3 287.0C240.9 287.1 242.7 287.7 244.1 288.9C245.5 290.1 246.6 293.1 247.9 294.0C249.2 294.9 250.1 294.9 251.7 294.6C253.3 294.3 255.8 293.2 257.4 292.1C259.0 291.1 259.9 290.0 261.2 288.3C262.5 286.6 263.7 282.6 265.0 282.0C266.3 281.4 267.5 282.5 268.9 284.5C270.3 286.5 272.3 291.7 273.6 294.0C274.9 296.3 275.6 298.7 276.5 298.2C277.4 297.7 278.2 294.1 279.3 291.2C280.4 288.3 281.8 282.9 283.1 280.7C284.4 278.5 286.0 278.2 287.0 278.2C288.0 278.2 288.3 279.0 288.9 280.7C289.5 282.4 289.7 286.6 290.5 288.3C291.3 290.0 292.3 290.8 293.5 291.0C294.7 291.2 296.4 290.9 297.5 289.3C298.6 287.8 299.5 283.5 300.4 281.7C301.3 279.9 301.9 278.3 302.9 278.4C303.8 278.4 305.1 281.1 306.1 282.0C307.1 282.9 307.9 284.1 309.0 284.0C310.1 283.9 311.5 283.1 312.8 281.3C314.1 279.5 315.3 276.5 316.6 273.1C317.9 269.7 319.1 265.0 320.4 260.7C321.7 256.4 323.1 250.8 324.2 247.4C325.3 244.0 326.1 241.8 327.0 240.3C327.9 238.8 328.9 238.2 329.9 238.4C330.9 238.6 331.9 240.9 332.8 241.7C333.8 242.5 334.3 243.2 335.6 243.2C336.9 243.2 338.6 241.7 340.4 241.7C342.1 241.7 344.4 243.2 346.1 243.2C347.9 243.2 349.6 243.1 350.9 241.7C352.2 240.3 352.9 237.7 353.7 235.0C354.5 232.3 354.8 228.2 355.6 225.5C356.4 222.8 357.3 221.5 358.5 218.8C359.7 216.1 361.4 213.3 362.8 209.5C364.2 205.7 365.2 200.2 366.6 196.2C368.0 192.2 370.0 189.2 371.3 185.7C372.6 182.2 373.5 180.4 374.2 175.2C374.9 170.0 375.2 160.3 375.7 154.3C376.2 148.3 376.4 141.8 377.0 139.0C377.6 136.2 378.0 137.3 379.0 137.5C380.0 137.7 381.3 139.5 382.8 140.0C384.3 140.5 386.6 140.0 387.9 140.6C389.2 141.2 389.7 140.9 390.4 143.8C391.1 146.7 391.7 152.6 392.3 158.1C392.9 163.6 393.4 171.7 394.2 177.1C395.0 182.5 396.1 187.6 397.0 190.5C397.9 193.4 398.8 194.4 399.9 194.3C401.0 194.2 401.9 190.8 403.7 190.1C405.4 189.4 408.6 190.8 410.4 190.1C412.1 189.4 413.1 186.8 414.2 185.7C415.2 184.6 415.9 182.6 416.7 183.4C417.5 184.2 418.3 187.7 419.0 190.5C419.7 193.3 419.9 197.6 420.9 200.0C421.8 202.4 423.3 203.4 424.7 204.8C426.1 206.2 428.0 207.0 429.4 208.6C430.8 210.2 432.0 212.4 433.2 214.3C434.4 216.2 435.3 217.7 436.5 220.0C437.7 222.3 439.0 224.4 440.4 228.3C441.8 232.2 443.8 239.6 445.1 243.6C446.4 247.6 447.3 251.7 448.4 252.1C449.5 252.5 450.8 248.3 451.8 246.0C452.8 243.7 453.5 241.2 454.5 238.0C455.5 234.8 456.8 228.8 457.6 226.7C458.4 224.6 458.8 224.0 459.5 225.3C460.2 226.6 460.9 231.9 461.8 234.3C462.8 236.8 464.0 239.8 465.2 240.0C466.4 240.2 467.7 238.4 469.0 235.2C470.3 232.0 471.6 226.1 472.9 221.0C474.2 215.9 475.3 209.6 476.7 204.8C478.1 200.0 479.8 195.8 481.4 192.4C483.0 189.0 484.8 185.0 486.2 184.4C487.6 183.8 488.7 185.8 490.0 188.6C491.3 191.4 492.6 197.7 493.8 201.0C495.0 204.3 496.0 208.6 497.0 208.6C498.0 208.6 498.8 204.7 499.9 201.0C500.9 197.3 502.1 190.5 503.3 186.7C504.5 182.9 506.0 178.7 507.1 178.1C508.2 177.5 509.2 179.6 510.0 182.9C510.8 186.2 511.3 194.3 511.9 198.1C512.5 201.9 512.8 205.2 513.8 205.7C514.8 206.2 516.0 202.6 517.6 201.0C519.2 199.4 521.4 197.6 523.3 196.2C525.2 194.8 527.6 192.7 529.0 192.4C530.4 192.1 531.1 192.4 531.9 194.3C532.7 196.2 533.0 200.0 533.8 203.8C534.6 207.6 535.8 213.4 536.7 217.1C537.7 220.8 538.7 224.7 539.5 225.7C540.3 226.7 540.8 224.7 541.4 222.9C542.0 221.2 542.7 217.4 543.3 215.2C543.9 213.0 544.4 209.7 545.2 209.5C546.0 209.3 547.1 212.7 548.1 214.3C549.1 215.9 550.0 219.5 551.0 219.0C552.0 218.5 553.2 215.8 553.8 211.4C554.4 207.0 554.3 197.0 554.8 192.4C555.3 187.8 555.8 184.8 556.7 183.8C557.7 182.9 558.9 185.1 560.5 186.7C562.1 188.3 564.8 190.8 566.2 193.3C567.6 195.8 568.2 197.3 569.0 201.9C569.8 206.5 570.4 216.9 571.0 221.0C571.6 225.1 572.1 226.6 572.9 226.3C573.7 226.0 574.6 221.1 575.7 219.0C576.8 216.9 578.1 215.0 579.5 213.9C580.9 212.8 582.7 213.8 584.3 212.4C585.9 211.0 587.9 206.3 589.0 205.7C590.1 205.1 590.4 206.7 591.0 208.6C591.6 210.5 592.1 215.1 592.9 217.1C593.7 219.1 594.6 220.6 595.7 220.6C596.8 220.6 598.1 217.2 599.5 217.1C600.9 217.0 602.5 218.7 604.3 220.0C606.0 221.3 608.2 224.6 610.0 224.8C611.8 225.0 613.5 222.6 614.8 221.0C616.1 219.4 617.0 216.9 618.0 215.2C619.0 213.5 620.2 211.0 621.1 211.0C622.0 211.0 622.5 213.3 623.4 215.2C624.3 217.1 625.3 222.0 626.3 222.5C627.2 223.0 628.1 219.5 629.1 218.1C630.1 216.7 630.9 214.5 632.0 214.3C633.1 214.1 634.7 216.7 635.8 216.8C636.9 217.0 637.8 217.0 638.7 215.2C639.7 213.3 640.5 209.8 641.5 205.7C642.5 201.6 643.4 194.3 644.4 190.5C645.4 186.7 645.9 184.2 647.2 182.9C648.5 181.6 650.4 183.4 652.0 182.9C653.6 182.4 655.4 181.8 656.8 180.0C658.2 178.2 659.4 175.4 660.6 172.4C661.8 169.4 662.8 166.7 663.9 162.2C665.0 157.7 666.2 150.6 667.2 145.2C668.2 139.8 669.1 134.4 670.1 130.0C671.1 125.6 672.1 121.0 673.0 118.6C673.9 116.1 674.4 115.0 675.2 115.3C676.0 115.6 676.8 117.7 677.7 120.5C678.6 123.3 679.7 128.6 680.6 131.9C681.5 135.2 682.5 138.4 683.4 140.5C684.3 142.6 685.2 143.8 686.3 144.3C687.4 144.8 689.0 144.6 690.1 143.3C691.2 142.0 692.2 139.2 693.0 136.7C693.8 134.2 694.2 130.1 694.9 128.1C695.6 126.1 696.3 125.1 697.3 124.9C698.2 124.7 699.6 125.3 700.6 127.1C701.6 128.9 702.5 132.5 703.4 135.7C704.3 138.9 705.3 144.1 706.3 146.2C707.2 148.3 708.0 148.2 709.1 148.1C710.2 148.0 711.8 145.7 713.0 145.8C714.2 146.0 715.4 146.9 716.4 149.0C717.4 151.1 717.9 155.0 718.7 158.6C719.5 162.2 720.2 167.0 721.0 170.7C721.8 174.4 722.5 178.1 723.4 180.7C724.3 183.3 725.2 185.3 726.3 186.5C727.4 187.7 728.9 188.2 730.1 187.6C731.3 187.0 732.5 183.4 733.5 182.9C734.5 182.4 735.2 182.6 735.8 184.8C736.4 187.0 736.7 192.5 737.3 196.2C737.9 199.8 738.5 205.3 739.2 206.7C739.9 208.1 740.7 206.4 741.5 204.8C742.3 203.2 743.0 198.7 743.8 197.1C744.6 195.5 745.2 195.4 746.3 195.2C747.3 195.0 748.8 196.6 750.1 195.8C751.4 195.0 752.8 191.9 753.9 190.5C755.0 189.1 755.7 187.8 756.8 187.6C757.9 187.4 759.3 188.6 760.6 189.5C761.9 190.4 763.2 192.1 764.4 192.8C765.6 193.5 766.8 194.6 767.8 193.9C768.8 193.2 769.4 192.2 770.1 188.6C770.8 185.0 771.4 177.1 772.0 172.6C772.6 168.1 773.2 164.4 773.9 161.6C774.6 158.8 775.4 156.9 776.2 155.7C777.0 154.5 777.6 153.6 778.7 154.4C779.8 155.2 781.2 158.2 782.6 160.5C784.0 162.8 785.7 167.4 787.3 168.5C788.9 169.6 790.7 169.1 792.1 167.1C793.5 165.1 794.7 159.9 795.9 156.7C797.1 153.5 798.1 147.7 799.1 147.7C800.1 147.7 800.8 152.3 801.6 156.7C802.4 161.0 803.2 172.2 804.1 173.8C805.0 175.4 806.2 168.1 807.3 166.2C808.4 164.3 809.6 162.4 810.6 162.4C811.6 162.4 812.5 163.3 813.4 166.2C814.3 169.0 815.3 176.0 815.9 179.5C816.5 183.0 816.7 180.7 817.2 187.0C817.7 193.3 818.2 208.9 818.8 217.1C819.4 225.3 819.9 230.2 820.7 236.2C821.5 242.2 822.6 249.5 823.5 253.3C824.4 257.1 824.9 259.1 825.8 259.0C826.6 258.9 827.5 257.8 828.6 253.0C829.7 248.2 831.0 235.7 832.1 230.5C833.2 225.3 834.0 223.5 835.0 221.9C836.0 220.3 836.8 220.2 837.8 221.0C838.8 221.8 839.8 224.2 840.7 226.7C841.7 229.2 842.4 233.3 843.5 236.2C844.6 239.0 845.9 241.0 847.3 243.8C848.7 246.7 850.4 250.6 852.1 253.3C853.9 256.0 855.9 259.9 857.8 260.0C859.7 260.1 861.6 256.5 863.5 254.0C865.4 251.5 867.3 247.3 869.2 244.8C871.1 242.3 873.6 239.5 875.0 239.0C876.4 238.5 876.7 240.2 877.8 241.9C878.9 243.7 880.3 247.6 881.6 249.5C882.9 251.4 884.0 253.3 885.4 253.3C886.8 253.3 888.5 251.1 890.2 249.5C892.0 247.9 894.0 245.1 895.9 243.8C897.8 242.5 900.2 243.2 901.6 241.9C903.0 240.6 903.6 237.9 904.5 236.2C905.4 234.4 905.8 231.9 906.8 231.4C907.8 230.9 909.0 231.7 910.2 233.3C911.4 234.9 912.7 238.6 914.0 241.0C915.3 243.4 916.4 246.1 917.8 247.6C919.2 249.1 921.3 248.5 922.6 249.8C923.9 251.1 924.5 253.2 925.4 255.5C926.3 257.8 927.0 262.8 928.3 263.3C929.6 263.8 931.2 259.6 933.0 258.6C934.8 257.6 936.9 257.3 938.8 257.2C940.7 257.1 943.2 256.7 944.5 258.0C945.8 259.3 946.0 261.4 946.8 265.2C947.6 268.9 948.3 276.5 949.2 280.5C950.1 284.5 951.1 287.1 952.1 289.0C953.1 290.9 954.2 292.2 955.3 291.9C956.4 291.6 957.8 288.3 958.8 287.1C959.8 285.9 960.2 284.7 961.0 284.9C961.8 285.1 962.6 286.8 963.5 288.1C964.4 289.4 965.6 293.5 966.4 292.9C967.2 292.3 967.7 288.1 968.3 284.3C968.9 280.5 969.6 272.6 970.2 270.0C970.8 267.4 971.0 268.3 972.1 268.7C973.2 269.1 975.1 272.6 976.9 272.5C978.6 272.4 980.7 269.5 982.6 268.1C984.5 266.7 987.0 264.2 988.3 264.3C989.6 264.4 989.8 266.7 990.6 269.0C991.4 271.3 991.8 276.3 993.0 278.2C994.2 280.1 996.0 278.5 997.8 280.5C999.5 282.5 1001.6 287.0 1003.5 290.0C1005.4 293.0 1007.3 298.5 1009.2 298.6C1011.1 298.7 1013.0 290.4 1014.9 290.4C1016.8 290.4 1019.0 296.0 1020.7 298.6C1022.5 301.2 1024.1 306.4 1025.4 306.2C1026.7 306.0 1027.3 299.9 1028.3 297.6C1029.2 295.3 1029.8 291.7 1031.1 292.3C1032.4 292.9 1034.3 298.6 1035.9 301.4C1037.5 304.2 1039.3 306.9 1040.5 309.0C1041.7 311.1 1042.0 311.7 1042.9 313.8C1043.8 315.9 1044.4 320.0 1045.7 321.4C1047.0 322.8 1048.9 322.6 1050.5 322.4C1052.1 322.1 1053.8 321.5 1055.2 319.9C1056.6 318.3 1057.6 315.2 1059.0 312.9C1060.4 310.6 1062.2 307.6 1063.8 306.2C1065.4 304.8 1066.8 305.3 1068.6 304.7C1070.3 304.1 1072.7 302.5 1074.3 302.4C1075.9 302.3 1076.3 303.2 1078.1 304.3C1079.8 305.4 1082.6 307.7 1084.8 309.0C1087.0 310.3 1089.7 311.0 1091.4 311.9C1093.1 312.8 1094.1 312.6 1095.2 314.2C1096.3 315.8 1097.1 318.9 1098.1 321.4C1099.1 323.9 1100.0 329.2 1101.0 329.4C1102.0 329.6 1102.7 325.5 1103.8 322.4C1104.9 319.3 1106.2 313.7 1107.6 311.0C1109.0 308.3 1110.7 306.5 1112.0 306.2C1113.3 305.9 1114.0 307.2 1115.2 309.0C1116.4 310.8 1117.9 314.3 1119.0 316.7C1120.1 319.1 1120.5 322.2 1121.9 323.3C1123.3 324.4 1125.5 322.7 1127.6 323.0C1129.7 323.3 1132.4 325.5 1134.3 324.9C1136.2 324.2 1137.4 321.3 1139.0 319.1C1140.6 316.9 1142.5 312.4 1143.8 311.5C1145.1 310.6 1145.6 312.1 1146.7 313.4C1147.8 314.7 1149.1 317.5 1150.5 319.1C1151.9 320.7 1153.6 321.7 1155.2 323.0C1156.8 324.3 1158.2 326.9 1160.0 327.1C1161.8 327.3 1164.3 324.3 1165.7 324.3C1167.1 324.3 1167.0 325.0 1168.6 327.1C1170.2 329.2 1173.0 335.5 1175.2 336.7C1177.4 337.9 1180.3 334.2 1181.9 334.4C1183.5 334.5 1183.5 335.8 1184.8 337.6C1186.1 339.4 1188.1 343.5 1189.5 345.2C1190.9 346.9 1192.1 348.0 1193.0 347.7C1193.9 347.4 1194.2 345.3 1194.7 343.3C1195.2 341.3 1195.5 337.4 1196.2 335.7C1196.9 334.0 1197.7 333.7 1199.0 333.4C1200.3 333.1 1202.0 333.5 1203.8 333.8C1205.5 334.1 1207.8 335.2 1209.5 335.1C1211.2 335.0 1213.0 332.9 1214.3 332.9C1215.6 332.8 1216.1 334.0 1217.1 334.8C1218.0 335.6 1218.6 336.9 1220.0 337.6C1221.4 338.3 1224.0 337.8 1225.7 339.0C1227.5 340.2 1228.9 343.2 1230.5 344.7C1232.1 346.1 1233.5 347.8 1235.2 347.7C1237.0 347.6 1239.1 344.8 1241.0 344.3C1242.9 343.8 1244.8 344.5 1246.7 344.9C1248.6 345.3 1250.5 346.5 1252.4 346.6C1254.3 346.8 1256.7 345.2 1258.1 345.8C1259.5 346.4 1259.8 348.6 1260.6 350.0C1261.4 351.4 1262.1 354.0 1262.9 354.2C1263.8 354.4 1264.8 353.9 1265.7 351.0C1266.7 348.1 1267.6 341.3 1268.6 336.7C1269.5 332.1 1270.4 326.2 1271.4 323.3C1272.4 320.4 1273.6 320.3 1274.7 319.5C1275.8 318.7 1276.7 319.9 1278.1 318.6C1279.5 317.3 1281.3 313.5 1282.9 311.5C1284.5 309.5 1286.2 307.7 1287.6 306.8C1289.0 305.9 1290.0 306.0 1291.4 306.2C1292.8 306.4 1294.6 306.8 1296.2 308.1C1297.8 309.4 1299.4 311.9 1301.0 313.8C1302.6 315.7 1304.1 318.2 1305.7 319.5C1307.3 320.8 1308.8 320.8 1310.5 321.4C1312.2 322.0 1314.1 322.3 1316.2 323.0C1318.3 323.7 1320.9 324.9 1322.9 325.6C1324.9 326.3 1327.0 327.8 1328.2 327.1C1329.4 326.4 1329.4 323.8 1329.9 321.4C1330.4 319.0 1330.7 314.6 1331.4 312.9C1332.1 311.2 1333.1 311.2 1334.3 311.3C1335.5 311.4 1337.3 311.7 1338.7 313.4C1340.1 315.1 1341.4 319.4 1342.9 321.4C1344.4 323.4 1345.5 324.4 1347.6 325.2C1349.6 326.0 1353.3 324.8 1355.2 326.2C1357.1 327.6 1357.4 331.9 1359.0 333.8C1360.6 335.7 1363.2 335.9 1364.8 337.6C1366.4 339.4 1367.6 342.9 1368.6 344.3C1369.5 345.7 1369.7 346.3 1370.5 346.2C1371.3 346.1 1372.4 344.4 1373.3 343.6C1374.2 342.8 1374.8 341.6 1375.7 341.5C1376.6 341.4 1377.6 342.7 1378.6 343.2C1379.5 343.7 1380.0 344.3 1381.4 344.4C1382.8 344.5 1385.3 343.7 1387.1 343.8C1388.8 343.9 1390.6 344.1 1391.9 344.8C1393.2 345.5 1393.8 347.2 1394.8 348.2C1395.8 349.2 1396.5 350.9 1397.6 351.0C1398.7 351.1 1400.1 349.7 1401.4 348.6C1402.7 347.5 1403.9 345.5 1405.2 344.4C1406.5 343.3 1407.6 342.0 1409.0 341.9C1410.4 341.8 1412.1 342.4 1413.4 343.8C1414.7 345.2 1415.7 348.8 1416.7 350.5C1417.7 352.2 1418.2 353.4 1419.5 354.3C1420.8 355.2 1423.1 354.6 1424.3 356.2C1425.5 357.8 1425.8 361.3 1426.6 363.8C1427.4 366.3 1428.0 370.0 1429.0 371.4C1430.0 372.8 1431.6 372.3 1432.9 372.4C1434.2 372.5 1435.4 372.7 1436.7 371.8C1438.0 370.9 1439.2 367.5 1440.5 367.0C1441.8 366.5 1443.0 368.0 1444.3 368.6C1445.6 369.2 1447.0 369.9 1448.1 370.5C1449.2 371.1 1450.2 371.0 1451.0 372.4C1451.8 373.8 1452.5 376.0 1453.2 379.0C1453.9 382.0 1454.5 387.9 1455.1 390.5C1455.7 393.1 1456.3 394.5 1456.9 394.3C1457.5 394.1 1458.0 391.4 1458.6 389.5C1459.2 387.6 1459.7 384.4 1460.5 382.9C1461.3 381.4 1462.0 380.9 1463.3 380.6C1464.6 380.3 1466.3 380.6 1468.1 381.0C1469.8 381.4 1472.0 382.4 1473.8 382.9C1475.5 383.4 1477.2 383.2 1478.6 383.8C1480.0 384.4 1481.1 385.7 1482.4 386.7C1483.7 387.7 1484.9 389.3 1486.2 389.9C1487.5 390.5 1488.6 390.8 1490.0 390.5C1491.4 390.2 1493.2 389.2 1494.8 388.2C1496.4 387.2 1498.3 386.2 1499.5 384.4C1500.7 382.5 1501.1 380.2 1501.8 377.1C1502.5 374.0 1503.1 368.1 1503.7 365.7C1504.3 363.3 1505.0 362.7 1505.6 362.9C1506.2 363.1 1506.8 365.0 1507.5 366.7C1508.2 368.4 1509.0 371.7 1510.0 373.3C1511.0 374.9 1512.4 375.6 1513.8 376.2C1515.2 376.8 1517.3 377.0 1518.6 377.1C1519.9 377.2 1520.7 376.7 1521.8 377.1C1522.9 377.5 1523.8 379.1 1525.2 379.6C1526.6 380.2 1528.6 380.3 1530.0 380.4C1531.4 380.5 1532.5 380.4 1533.8 380.0C1535.1 379.6 1536.3 377.9 1537.6 377.7C1538.9 377.5 1539.8 378.1 1541.4 379.0C1543.0 379.9 1545.2 381.5 1547.1 382.9C1549.0 384.3 1551.2 386.5 1552.9 387.6C1554.6 388.7 1556.0 389.0 1557.0 389.5C1558.0 390.0 1558.4 391.1 1559.2 390.4C1560.0 389.7 1561.1 387.2 1561.7 385.2C1562.3 383.2 1562.5 380.0 1563.0 378.6C1563.5 377.2 1564.0 376.5 1564.9 376.7C1565.8 376.9 1567.1 378.5 1568.3 379.9C1569.5 381.3 1571.0 383.7 1572.1 384.9C1573.2 386.1 1573.6 386.9 1575.0 387.1C1576.4 387.3 1579.3 386.0 1580.7 386.2C1582.1 386.4 1582.6 387.5 1583.6 388.1C1584.5 388.7 1585.1 389.8 1586.4 389.6C1587.7 389.4 1589.9 387.1 1591.2 386.8C1592.5 386.6 1593.0 387.2 1594.0 388.1C1595.0 389.0 1596.4 392.2 1597.3 392.3C1598.2 392.4 1598.6 390.8 1599.2 389.0C1599.8 387.2 1600.1 383.0 1600.7 381.4C1601.3 379.8 1601.9 379.3 1602.6 379.5C1603.3 379.7 1604.0 381.1 1604.9 382.4C1605.9 383.7 1606.8 385.7 1608.3 387.1C1609.8 388.5 1612.1 389.7 1614.0 390.6C1615.9 391.5 1618.0 392.1 1619.8 392.5C1621.5 392.9 1622.9 393.4 1624.5 393.2C1626.1 393.0 1627.9 392.4 1629.3 391.3C1630.7 390.2 1632.1 387.8 1633.1 386.8C1634.1 385.9 1634.3 385.4 1635.4 385.6C1636.5 385.8 1638.6 387.8 1639.8 388.1C1641.0 388.5 1641.5 388.2 1642.6 387.7C1643.7 387.2 1644.8 385.9 1646.4 385.2C1648.0 384.5 1650.0 384.0 1652.1 383.7C1654.2 383.4 1657.0 383.8 1658.8 383.3C1660.5 382.9 1661.5 382.3 1662.6 381.0C1663.6 379.7 1664.3 376.5 1665.1 375.3C1665.9 374.1 1666.4 373.6 1667.4 373.8C1668.4 374.0 1669.9 375.1 1671.2 376.3C1672.5 377.5 1673.7 379.5 1675.0 381.0C1676.3 382.5 1677.4 384.2 1678.8 385.2C1680.2 386.2 1681.8 386.9 1683.6 387.1C1685.3 387.3 1687.7 386.0 1689.3 386.4C1690.9 386.8 1691.8 388.6 1693.1 389.4C1694.4 390.2 1695.6 390.9 1696.9 391.3C1698.2 391.7 1699.4 392.2 1700.7 391.5C1702.0 390.8 1703.1 387.9 1704.5 386.8C1705.9 385.8 1707.7 385.7 1709.3 385.2C1710.9 384.7 1712.7 383.9 1714.0 383.7C1715.3 383.5 1715.9 383.2 1716.9 383.9C1717.9 384.6 1718.7 386.5 1719.8 387.7C1720.9 388.9 1722.3 390.3 1723.6 391.0C1724.9 391.7 1726.0 392.0 1727.4 391.9C1728.8 391.8 1730.5 390.7 1732.1 390.6C1733.7 390.5 1735.5 391.5 1736.9 391.5C1738.3 391.5 1739.8 391.0 1740.7 390.6C1741.7 390.2 1742.3 389.3 1742.6 389.0" fill="none" stroke="#FCCA52" stroke-width="1.48" stroke-linejoin="round" stroke-linecap="round"/>
<line x1="1521.68" y1="59.6" x2="1521.68" y2="449.6" stroke="#c8c8c8" stroke-width="1.5" stroke-dasharray="5.9 2.92"/>
<line x1="128.0" y1="235.0" x2="1745.0" y2="235.0" stroke="#c0c0c0" stroke-width="1.75" stroke-dasharray="6 3"/>
<circle cx="1521.68" cy="377.3" r="2.8" fill="#EDB83C"/>
<g font-family="'Liberation Sans', sans-serif">
<rect x="0" y="217.6" width="138.2" height="32.8" rx="4.5" fill="#cccccc"/>
<text x="10.80" y="238.60" text-anchor="start" fill="#fff" stroke="#fff" stroke-width="0.5" font-size="17.9" font-weight="normal" textLength="116.00" lengthAdjust="spacingAndGlyphs">-33,692,307.69</text>
<rect x="1750" y="217.6" width="54.7" height="32.8" rx="4.5" fill="#cccccc"/>
<text x="1761.00" y="238.60" text-anchor="start" fill="#fff" stroke="#fff" stroke-width="0.5" font-size="17.9" font-weight="normal" textLength="32.90" lengthAdjust="spacingAndGlyphs">0.20</text>
<rect x="1436.5" y="454.5" width="170.5" height="33" rx="4.5" fill="#000"/>
<text x="1447.40" y="475.50" text-anchor="start" fill="#fff" stroke="#fff" stroke-width="0.55" font-size="17.9" font-weight="normal" textLength="149.00" lengthAdjust="spacingAndGlyphs">17 Feb 2026, 03:00</text>
<rect x="816" y="11" width="15" height="15" fill="#3ECD7D"/>
<text x="838.80" y="24.00" text-anchor="start" fill="#444444" stroke="#444444" stroke-width="0.05" font-size="17.9" font-weight="normal" textLength="62.30" lengthAdjust="spacingAndGlyphs">Netflow</text>
<rect x="921" y="11" width="15" height="15" fill="#ECBC50"/>
<text x="944.30" y="24.00" text-anchor="start" fill="#444444" stroke="#444444" stroke-width="0.05" font-size="17.9" font-weight="normal" textLength="92.00" lengthAdjust="spacingAndGlyphs">DOGE Price</text>
</g>
</svg>
</body></html>
